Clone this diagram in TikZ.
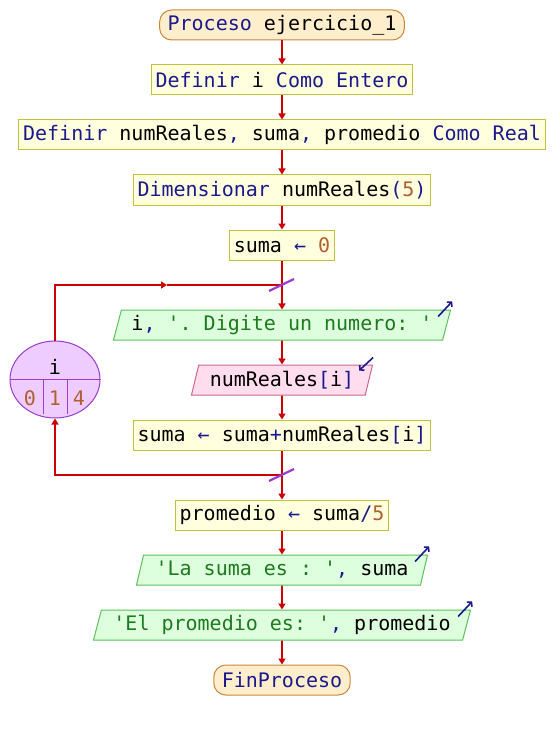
\documentclass[tikz,border=0pt]{standalone}
\usepackage{fontspec}
\setmonofont{DejaVu Sans Mono}
\usetikzlibrary{shapes.geometric,arrows.meta}
\definecolor{kwcol}{HTML}{1A1A8C}
\definecolor{strcol}{HTML}{1E7A1E}
\definecolor{numcol}{HTML}{B0602E}
\definecolor{flowcol}{HTML}{CC0000}
\definecolor{procdraw}{HTML}{C2C040}
\definecolor{procfill}{HTML}{FFFFDD}
\definecolor{termdraw}{HTML}{C8873A}
\definecolor{termfill}{HTML}{FFEECC}
\definecolor{outdraw}{HTML}{5CC05C}
\definecolor{outfill}{HTML}{DDFFDD}
\definecolor{indraw}{HTML}{CC6690}
\definecolor{infill}{HTML}{FFDDEE}
\definecolor{loopdraw}{HTML}{9A3CCC}
\definecolor{loopfill}{HTML}{EECCFF}
\newcommand{\kwd}[1]{\textcolor{kwcol}{#1}}
\newcommand{\strg}[1]{\textcolor{strcol}{#1}}
\newcommand{\numb}[1]{\textcolor{numcol}{#1}}
\frenchspacing
\begin{document}
\begin{tikzpicture}[x=1pt,y=-1pt,
  code/.style={font=\ttfamily\fontsize{20}{24}\selectfont},
  proc/.style={code, draw=procdraw, fill=procfill, line width=1pt, minimum height=30pt, inner xsep=4.5pt, inner ysep=0pt},
  term/.style={proc, draw=termdraw, fill=termfill, rounded corners=12pt, inner xsep=8pt},
  outp/.style={code, trapezium, trapezium left angle=68, trapezium right angle=112, trapezium stretches body, draw=outdraw, fill=outfill, line width=1pt, minimum height=30pt, inner xsep=2pt, inner ysep=0pt},
  inp/.style={outp, draw=indraw, fill=infill},
  flow/.style={draw=flowcol, line width=1.6pt, -{Triangle[width=7pt,length=6pt]}},
  flowline/.style={draw=flowcol, line width=1.6pt},
  icon/.style={draw=kwcol, line width=1.6pt, -{Straight Barb[length=3pt,width=7pt]}},
  slash/.style={draw=loopdraw, line width=2.2pt},
  loopbox/.style={code, ellipse, draw=loopdraw, fill=loopfill, line width=1pt, minimum width=90pt, minimum height=77pt},
  loopline/.style={draw=loopdraw, line width=1pt}]
\useasboundingbox (0,0) rectangle (556,730);
% main column
\node [term] (start) at (282,25) {\kwd{Proceso} ejercicio\_1};
\node [proc] (defi) at (282,80) {\kwd{Definir} i \kwd{Como Entero}};
\node [proc] (defreal) at (282,135) {\kwd{Definir} numReales\kwd{,} suma\kwd{,} promedio \kwd{Como Real}};
\node [proc] (dimen) at (282,190) {\kwd{Dimensionar} numReales\kwd{(}\numb{5}\kwd{)}};
\node [proc] (sumaini) at (282,245) {suma \kwd{←} \numb{0}};
\node [outp, minimum width=337pt] (askin) at (282,325) {i\kwd{,} \strg{'. Digite un numero: '}};
\node [inp, minimum width=181pt] (readin) at (282,380) {numReales\kwd{[}i\kwd{]}};
\node [proc] (sumacc) at (282,435) {suma \kwd{←} suma\kwd{+}numReales\kwd{[}i\kwd{]}};
\node [proc] (prom) at (282,515) {promedio \kwd{←} suma\kwd{/}\numb{5}};
\node [outp, minimum width=291pt] (showsum) at (282,570) {\strg{'La suma es : '}\kwd{,} suma};
\node [outp, minimum width=377pt] (showprom) at (282,625) {\strg{'El promedio es: '}\kwd{,} promedio};
\node [term] (finish) at (282,680) {\kwd{FinProceso}};
% loop variable
\node [loopbox] (loopvar) at (55,379.5) {};
\node [code] (varname) at (55,367) {i};
\node [code] (valini) at (30,398) {\numb{0}};
\node [code] (valstep) at (55,398) {\numb{1}};
\node [code] (valfin) at (79,398) {\numb{4}};
\draw [loopline] (loopvar.west) -- (loopvar.east);
\draw [loopline] ([shift={(-11.5,0)}]loopvar.center) -- ++(0,34);
\draw [loopline] ([shift={(12.5,0)}]loopvar.center) -- ++(0,34);
\coordinate (looptop) at (282,285);
\coordinate (loopbot) at (282,475);
\coordinate (looparrow) at (167,285);
% connectors
\draw [flow] (start) -- (defi);
\draw [flow] (defi) -- (defreal);
\draw [flow] (defreal) -- (dimen);
\draw [flow] (dimen) -- (sumaini);
\draw [flow] (sumaini) -- (askin);
\draw [flow] (askin) -- (readin);
\draw [flow] (readin) -- (sumacc);
\draw [flow] (sumacc) -- (prom);
\draw [flow] (prom) -- (showsum);
\draw [flow] (showsum) -- (showprom);
\draw [flow] (showprom) -- (finish);
\draw [flow] (loopvar.north) |- (looparrow);
\draw [flowline] (looparrow) -- (looptop);
\draw [flow] (loopbot) -| (loopvar.south);
\draw [slash] ([shift={(-13,6)}]looptop) -- ([shift={(12,-6)}]looptop);
\draw [slash] ([shift={(-13,6)}]loopbot) -- ([shift={(12,-6)}]loopbot);
% io icons
\draw [icon] ([shift={(-13,7)}]askin.top right corner) -- ([shift={(1,-8)}]askin.top right corner);
\draw [icon] ([shift={(-13,7)}]showsum.top right corner) -- ([shift={(1,-8)}]showsum.top right corner);
\draw [icon] ([shift={(-13,7)}]showprom.top right corner) -- ([shift={(1,-8)}]showprom.top right corner);
\draw [icon] ([shift={(0,-7)}]readin.top right corner) -- ([shift={(-14,6)}]readin.top right corner);
\end{tikzpicture}
\end{document}
